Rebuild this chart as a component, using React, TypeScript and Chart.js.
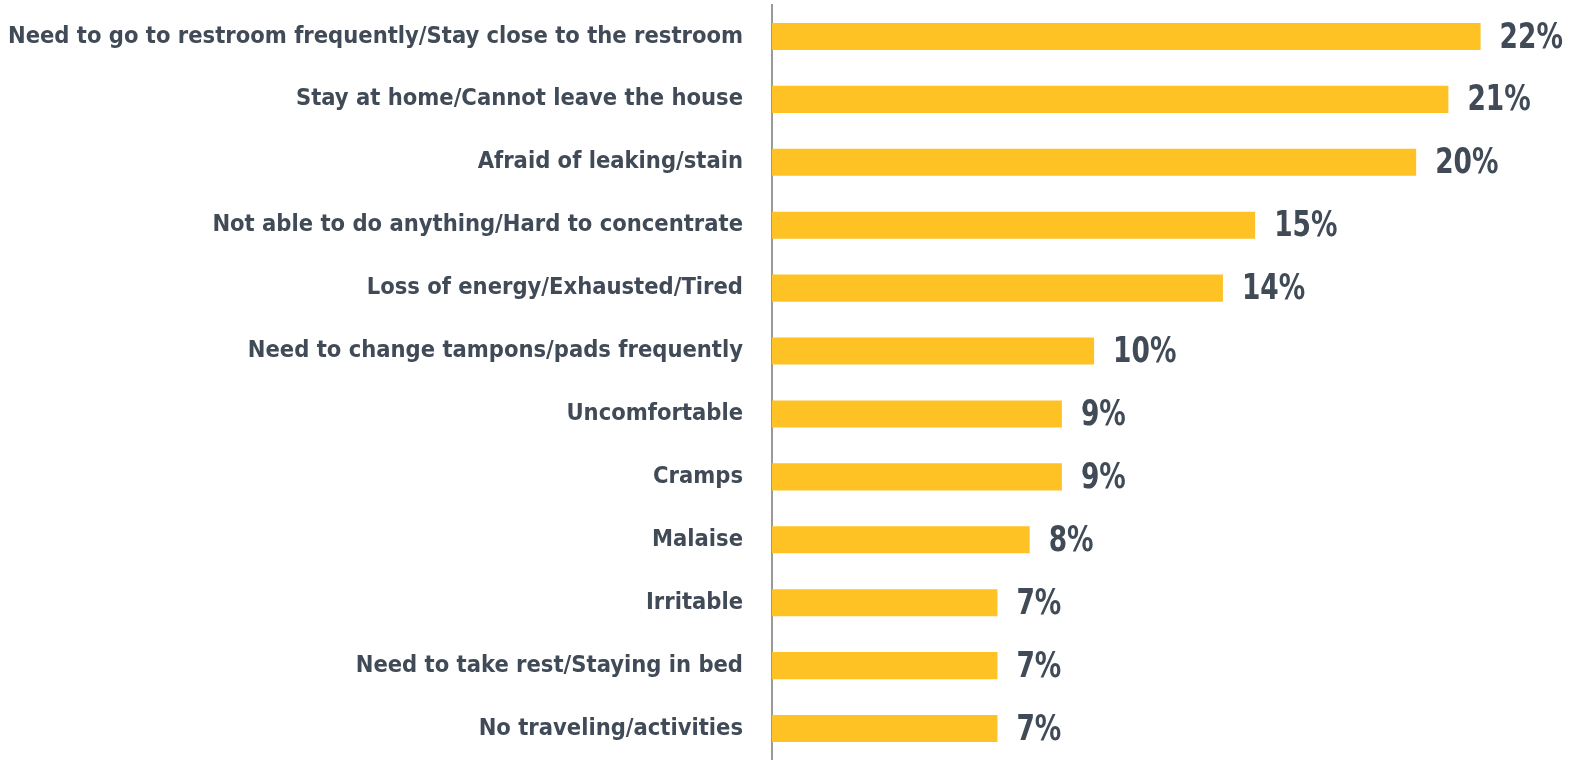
import React, { useEffect, useRef } from "react";
import { Chart, registerables } from "chart.js";

Chart.register(...registerables);

const categories: string[] = [
  "Need to go to restroom frequently/Stay close to the restroom",
  "Stay at home/Cannot leave the house",
  "Afraid of leaking/stain",
  "Not able to do anything/Hard to concentrate",
  "Loss of energy/Exhausted/Tired",
  "Need to change tampons/pads frequently",
  "Uncomfortable",
  "Cramps",
  "Malaise",
  "Irritable",
  "Need to take rest/Staying in bed",
  "No traveling/activities",
];

const values: number[] = [22, 21, 20, 15, 14, 10, 9, 9, 8, 7, 7, 7];

const TEXT_COLOR = "#414B57";
const BAR_COLOR = "#FFC225";

const valueLabels = {
  id: "valueLabels",
  afterDatasetsDraw(chart: any) {
    const ctx = chart.ctx;
    const meta = chart.getDatasetMeta(0);
    ctx.fillStyle = TEXT_COLOR;
    ctx.textAlign = "left";
    ctx.textBaseline = "middle";
    meta.data.forEach((bar: any, i: number) => {
      ctx.save();
      ctx.font = "bold 35px 'DejaVu Sans Condensed', 'DejaVu Sans'";
      ctx.translate(bar.x + 19, bar.y + 2);
      ctx.scale(0.84, 1);
      ctx.fillText(values[i] + "%", 0, 0);
      ctx.restore();
    });
  },
};

export default function App() {
  const canvasRef = useRef<HTMLCanvasElement | null>(null);

  useEffect(() => {
    if (!canvasRef.current) return;
    const chart = new Chart(canvasRef.current, {
      type: "bar",
      data: {
        labels: categories,
        datasets: [
          {
            data: values,
            backgroundColor: BAR_COLOR,
            borderWidth: 0,
            barPercentage: 0.43,
            categoryPercentage: 1,
          },
        ],
      },
      options: {
        indexAxis: "y",
        animation: false,
        responsive: false,
        devicePixelRatio: 1,
        layout: { autoPadding: false, padding: { top: 5, right: 27, bottom: 0, left: 0 } },
        plugins: {
          legend: { display: false },
          tooltip: { enabled: false },
        },
        scales: {
          x: {
            display: false,
            min: 0,
            max: 24,
          },
          y: {
            afterFit(scale: any) {
              scale.width = 772;
              scale.paddingTop = 0;
              scale.paddingBottom = 0;
            },
            grid: { display: false, drawTicks: false },
            border: { display: true, color: "#9A9A9A", width: 2 },
            ticks: {
              color: TEXT_COLOR,
              padding: 29,
              font: { family: "'DejaVu Sans Condensed', 'DejaVu Sans'", weight: "bold", size: 23.5 },
            },
          },
        },
      },
      plugins: [valueLabels],
    });
    return () => chart.destroy();
  }, []);

  return (
    <div style={{ position: "fixed", left: 0, top: 0, width: 1572, height: 760, background: "#fff" }}>
      <canvas ref={canvasRef} width={1572} height={760} style={{ display: "block", width: 1572, height: 760 }} />
    </div>
  );
}
